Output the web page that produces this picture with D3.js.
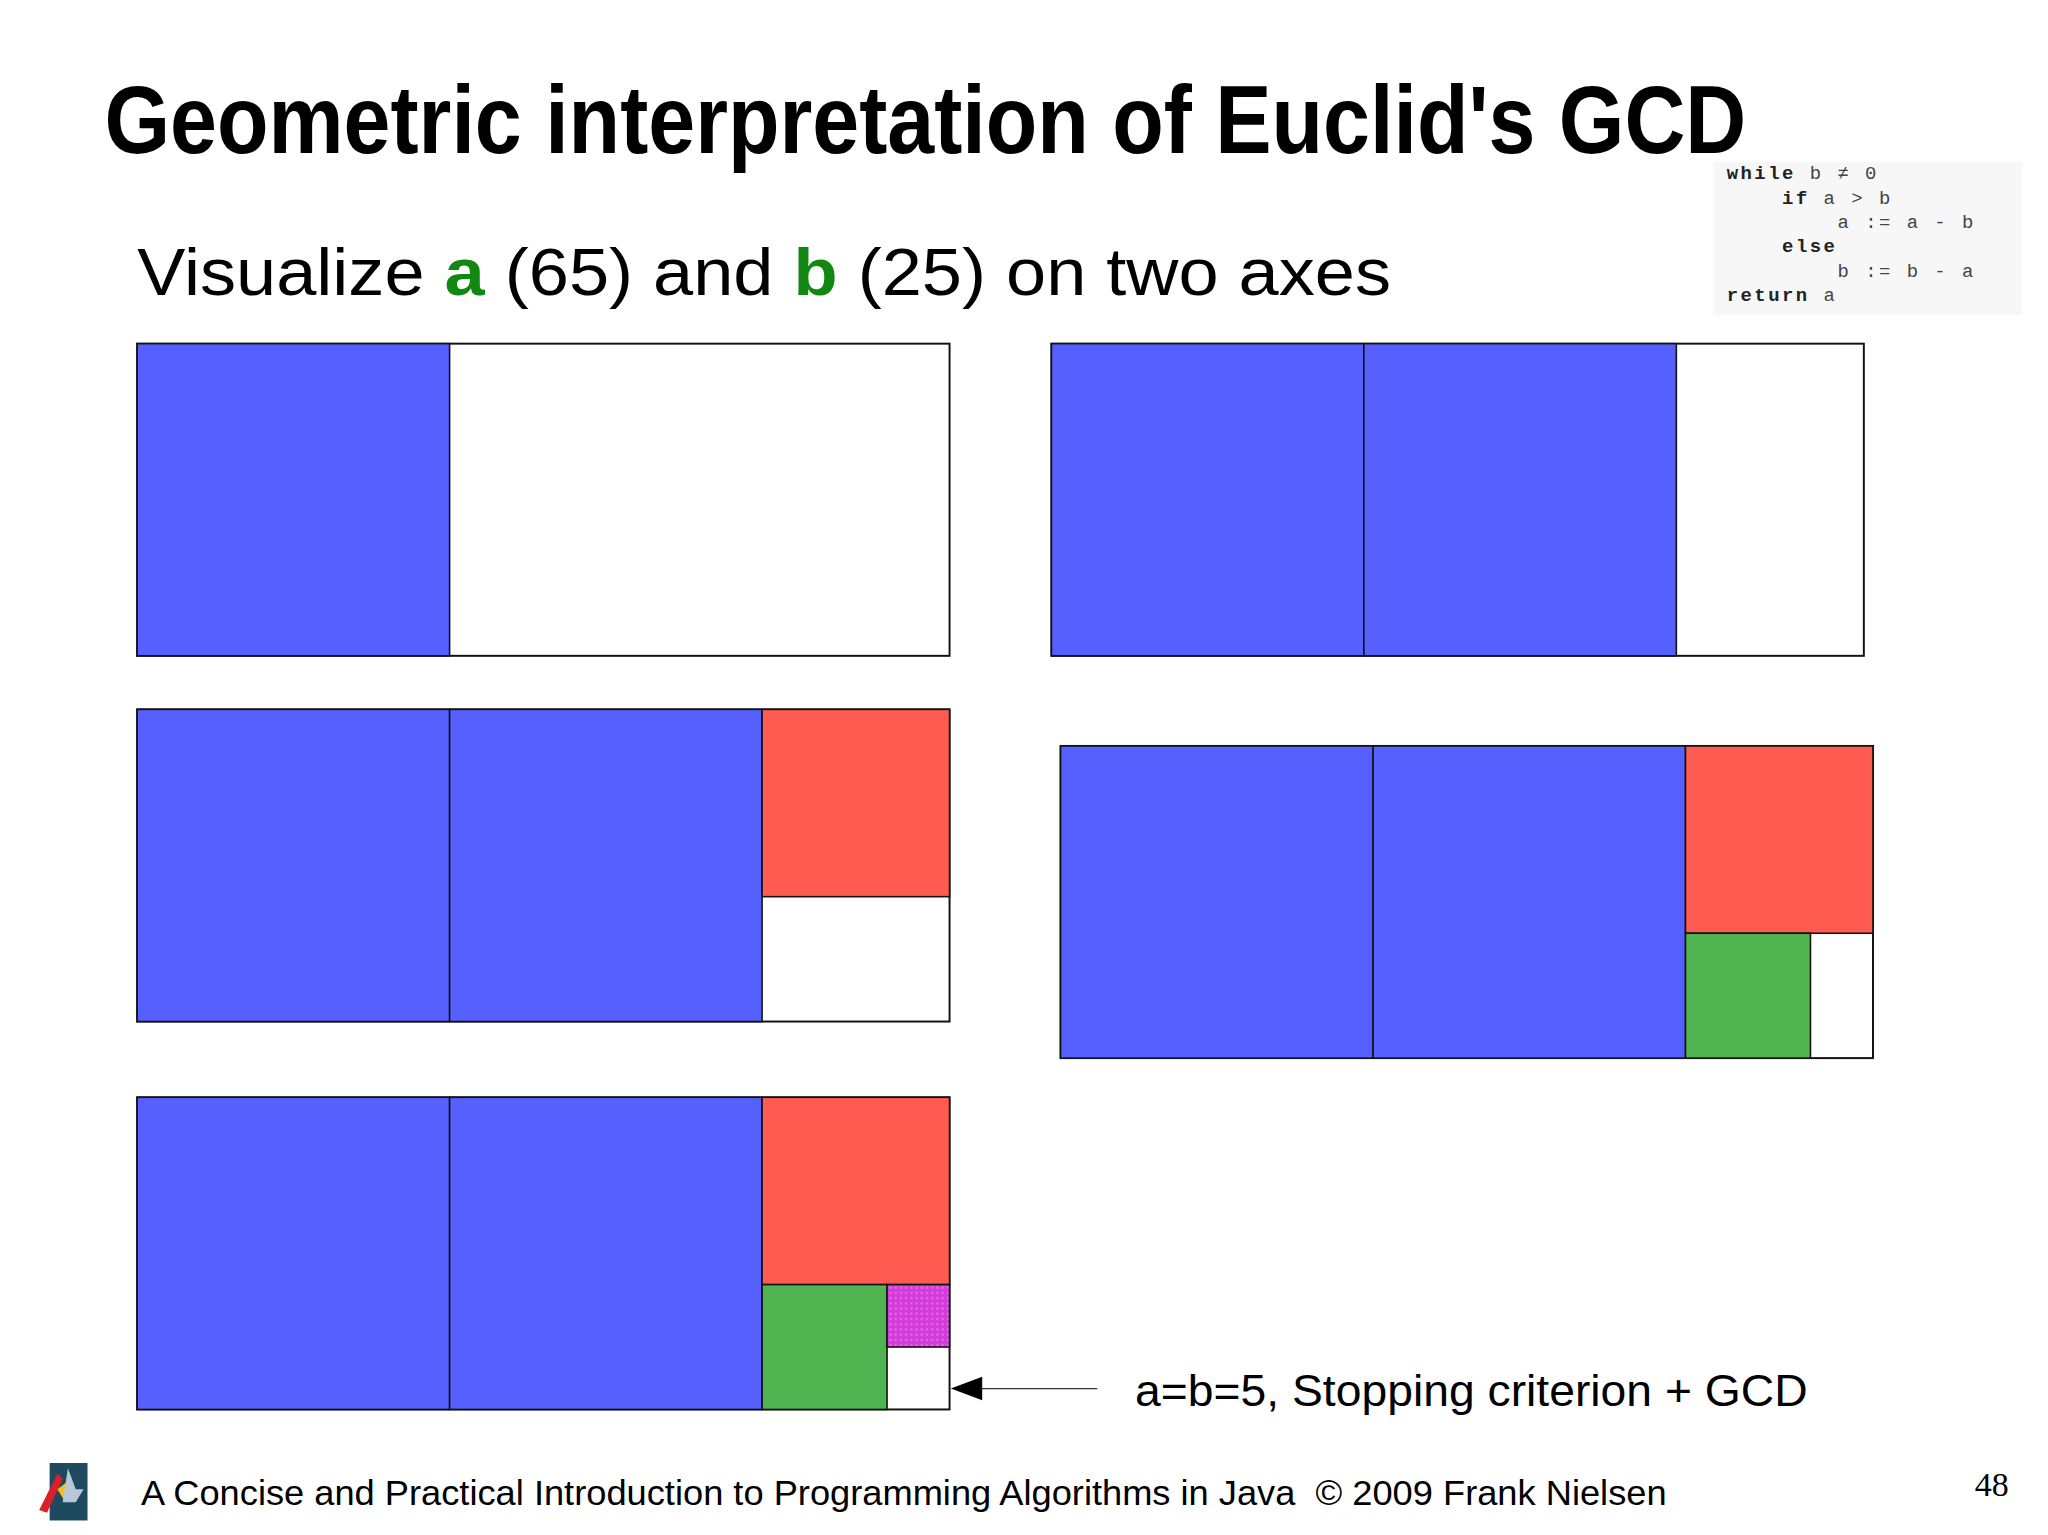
<!DOCTYPE html>
<html>
<head>
<meta charset="utf-8">
<script src="https://cdn.jsdelivr.net/npm/d3@7"></script>
<style>
  html, body { margin: 0; padding: 0; background: #fff; }
</style>
</head>
<body>
<div id="app"></div>
<script>
// Euclid's GCD for a=65, b=25, drawn as squares cut from an a x b rectangle
const A = 65, B = 25;
const panelOrigins = [[105, 263], [805, 263], [105, 543], [812, 571], [105, 840]];
// squares per panel: [x, y, side, kind] in units
const panelSquares = [
  [[0, 0, 25, "blue"]],
  [[0, 0, 25, "blue"], [25, 0, 25, "blue"]],
  [[0, 0, 25, "blue"], [25, 0, 25, "blue"], [50, 0, 15, "red"]],
  [[0, 0, 25, "blue"], [25, 0, 25, "blue"], [50, 0, 15, "red"], [50, 15, 10, "green"]],
  [[0, 0, 25, "blue"], [25, 0, 25, "blue"], [50, 0, 15, "red"], [50, 15, 10, "green"], [60, 15, 5, "pink"]]
];
const codeLines = [
  [0, "while", " b \u2260 0"],
  [4, "if", " a > b"],
  [8, "", "a := a - b"],
  [4, "else", ""],
  [8, "", "b := b - a"],
  [0, "return", " a"]
];

const colors = { blue: "#5560ff", red: "#ff5b50", green: "#50b450", pink: "#d23cd8" };
const W = 1568, H = 1175;
const panelW = 622, panelH = 239;

const svg = d3.select("#app").append("svg")
  .attr("width", 2048).attr("height", 1535)
  .attr("viewBox", `0 0 ${W} ${H}`);

const defs = svg.append("defs");
const pat = defs.append("pattern").attr("id", "pinkTex")
  .attr("width", 4).attr("height", 4).attr("patternUnits", "userSpaceOnUse");
pat.append("rect").attr("width", 4).attr("height", 4).attr("fill", colors.pink);
pat.append("rect").attr("x", 1).attr("y", 1).attr("width", 1.5).attr("height", 1.5).attr("fill", "#f070f0");

svg.append("text").attr("x", 80).attr("y", 117)
  .attr("font-family", "'Liberation Sans Narrow', 'Liberation Sans', Arial, sans-serif")
  .attr("font-weight", "bold").attr("font-size", 74)
  .attr("textLength", 1257).attr("lengthAdjust", "spacingAndGlyphs")
  .text("Geometric interpretation of Euclid's GCD");

const sub = svg.append("text").attr("x", 105).attr("y", 226)
  .attr("font-family", "'Liberation Sans', Arial, sans-serif").attr("font-size", 51)
  .attr("textLength", 960).attr("lengthAdjust", "spacingAndGlyphs");
[["Visualize ", null], ["a", "#118811"], [" (65) and ", null], ["b", "#118811"], [" (25) on two axes", null]]
  .forEach(([t, c]) => {
    const s = sub.append("tspan").text(t);
    if (c) s.attr("fill", c).attr("font-weight", "bold");
  });

// code box
svg.append("rect").attr("x", 1312).attr("y", 124).attr("width", 236).attr("height", 117).attr("fill", "#f7f7f7");
const charW = 10.6;
codeLines.forEach(([indent, kw, rest], i) => {
  const t = svg.append("text").attr("x", 1322 + indent * charW).attr("y", 137 + i * 18.7)
    .attr("font-family", "'Liberation Mono', 'DejaVu Sans Mono', monospace").attr("font-size", 14.5)
    .attr("letter-spacing", 1.9).attr("fill", "#222").style("white-space", "pre");
  if (kw) t.append("tspan").attr("font-weight", "bold").text(kw);
  if (rest) t.append("tspan").attr("fill", "#444").text(rest);
});

// panels
panelOrigins.forEach(([x0, y0], p) => {
  const x = d3.scaleLinear().domain([0, A]).range([x0, x0 + panelW]);
  const y = d3.scaleLinear().domain([0, B]).range([y0, y0 + panelH]);
  const g = svg.append("g");
  g.append("rect").attr("x", x(0)).attr("y", y(0))
    .attr("width", x(A) - x(0)).attr("height", y(B) - y(0))
    .attr("fill", "#fff").attr("stroke", "#111").attr("stroke-width", 1.5);
  g.selectAll("rect.sq").data(panelSquares[p]).enter().append("rect")
    .attr("class", "sq")
    .attr("x", d => x(d[0])).attr("y", d => y(d[1]))
    .attr("width", d => x(d[0] + d[2]) - x(d[0])).attr("height", d => y(d[1] + d[2]) - y(d[1]))
    .attr("fill", d => d[3] === "pink" ? "url(#pinkTex)" : colors[d[3]])
    .attr("stroke", "#111").attr("stroke-width", 1.2);
});

// arrow to the final 5x5 cell
svg.append("line").attr("x1", 840).attr("y1", 1063).attr("x2", 750).attr("y2", 1063)
  .attr("stroke", "#333").attr("stroke-width", 1);
svg.append("path").attr("d", "M728,1063 L752,1054 L752,1072 Z").attr("fill", "#000");
svg.append("text").attr("x", 869).attr("y", 1076)
  .attr("font-family", "'Liberation Sans', Arial, sans-serif").attr("font-size", 34)
  .attr("textLength", 515).attr("lengthAdjust", "spacingAndGlyphs")
  .text("a=b=5, Stopping criterion + GCD");

// footer
const logo = svg.append("g");
logo.append("rect").attr("x", 38).attr("y", 1120).attr("width", 29).attr("height", 44).attr("fill", "#1d4a5e");
logo.append("path").attr("d", "M30,1156 L44,1128 L48,1132 L36,1158 Z").attr("fill", "#d8202a");
logo.append("path").attr("d", "M44,1140 L52,1134 L50,1150 Z").attr("fill", "#f0c020");
logo.append("path").attr("d", "M52,1124 L58,1140 L64,1140 L58,1150 L48,1150 Z").attr("fill", "#b8c8d8");

svg.append("text").attr("x", 108).attr("y", 1152)
  .attr("font-family", "'Liberation Sans', Arial, sans-serif").attr("font-size", 27)
  .attr("textLength", 1168).attr("lengthAdjust", "spacingAndGlyphs")
  .style("white-space", "pre")
  .text("A Concise and Practical Introduction to Programming Algorithms in Java  \u00a9 2009 Frank Nielsen");
svg.append("text").attr("x", 1512).attr("y", 1145)
  .attr("font-family", "'Liberation Serif', 'Times New Roman', serif").attr("font-size", 26)
  .text("48");
</script>
</body>
</html>
